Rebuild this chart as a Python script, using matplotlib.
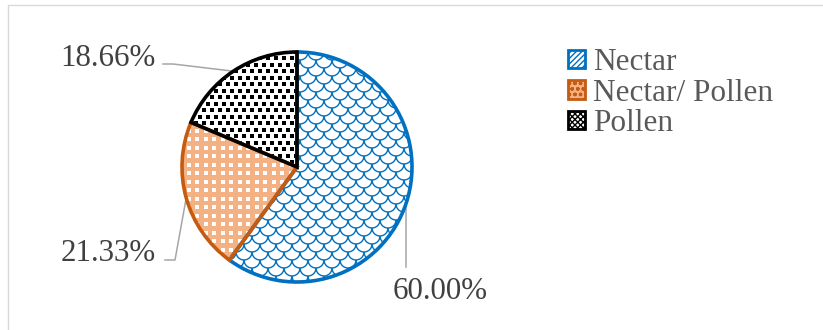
import numpy as np
import matplotlib.pyplot as plt
from matplotlib.patches import Wedge, Patch, Rectangle
from matplotlib.collections import LineCollection

# share of visits by food source
sources = ["Nectar", "Nectar/ Pollen", "Pollen"]
shares = [60.00, 21.33, 18.66]

edge_colors = ["#0070C0", "#C55A11", "#000000"]
face_colors = ["#FFFFFF", "#F4B183", "#FFFFFF"]

plt.rcParams["font.family"] = ["Liberation Serif", "DejaVu Serif"]

W, H = 823, 330
fig = plt.figure(figsize=(W / 100, H / 100), dpi=100)
ax = fig.add_axes([0, 0, 1, 1])

cx, cy, R = 297, 163, 115
wedges, _ = ax.pie(shares, colors=face_colors, startangle=90, counterclock=False,
                   center=(cx, cy), radius=R, frame=True,
                   wedgeprops=dict(linewidth=0))
ax.set_xlim(0, W)
ax.set_ylim(0, H)
ax.set_aspect("equal")
ax.axis("off")


def scales(clip, color, step=16):
    r = step / 2
    t = np.linspace(np.pi, 2 * np.pi, 15)
    segs = []
    for j, y in enumerate(np.arange(cy - R - 10, cy + R + 10, r)):
        off = (j % 2) * r
        for x in np.arange(cx - R - 10 + off, cx + R + 10, step):
            segs.append(np.column_stack([x + r * np.cos(t), y + r * np.sin(t)]))
    lc = LineCollection(segs, colors=color, linewidths=1.0, zorder=2)
    ax.add_collection(lc)
    lc.set_clip_path(clip)


def squares(clip, color, size, dx, dy, stagger=True):
    xs, ys = [], []
    for j, y in enumerate(np.arange(cy - R - 10, cy + R + 10, dy)):
        off = (j % 2) * dx / 2 if stagger else 0
        for x in np.arange(cx - R - 10 + off, cx + R + 10, dx):
            xs.append(x)
            ys.append(y)
    sc = ax.scatter(xs, ys, s=(size * 0.72) ** 2, marker="s", c=color,
                    linewidths=0, zorder=2)
    sc.set_clip_path(clip)


scales(wedges[0], edge_colors[0])
squares(wedges[1], "white", 3.8, 8.5, 8.5, stagger=False)
squares(wedges[2], "black", 3.8, 8, 6.5)

for w, ec in zip(wedges, edge_colors):
    ax.add_patch(Wedge(w.center, w.r, w.theta1, w.theta2, fill=False,
                       edgecolor=ec, linewidth=2.6, zorder=5))

# percentage labels with leader lines from the middle of each slice
label_color = "#404040"
lead_color = "#A6A6A6"
mids = [np.deg2rad((w.theta1 + w.theta2) / 2) for w in wedges]
anchors = [(cx + R * np.cos(m), cy + R * np.sin(m)) for m in mids]

# Nectar: straight down to the label
ax.plot([anchors[0][0], anchors[0][0]], [anchors[0][1], 63], color=lead_color, lw=1.1, zorder=1)
ax.text(393, 31, f"{shares[0]:.2f}%", ha="left", va="baseline", fontsize=22.3, color=label_color)

# Nectar/ Pollen
ax.plot([165, 175, anchors[1][0]], [70, 70, anchors[1][1]], color=lead_color, lw=1.1, zorder=1)
ax.text(156, 69, f"{shares[1]:.2f}%", ha="right", va="baseline", fontsize=22.3, color=label_color)

# Pollen
ax.plot([163, 173, anchors[2][0]], [266, 266, anchors[2][1]], color=lead_color, lw=1.1, zorder=1)
ax.text(156, 264, f"{shares[2]:.2f}%", ha="right", va="baseline", fontsize=22.3, color=label_color)

handles = [Patch(facecolor="white", edgecolor=edge_colors[0], hatch="//////", linewidth=2),
           Patch(facecolor=face_colors[1], edgecolor=edge_colors[1], hatch="ooo", linewidth=2),
           Patch(facecolor="white", edgecolor=edge_colors[2], hatch="xxxxxx", linewidth=2)]
ax.legend(handles, sources, loc="upper left", bbox_to_anchor=(568 / W, 1 - 48 / H),
          frameon=False, fontsize=22.5, labelcolor="#595959", borderpad=0,
          borderaxespad=0, handlelength=0.55, handleheight=0.55,
          handletextpad=0.25, labelspacing=0.05)

# chart area border
fig.add_artist(Rectangle((8 / W, -0.1), 1.2, 1.1 - 5 / H, transform=fig.transFigure,
                         fill=False, edgecolor="#D9D9D9", linewidth=1.0))

fig.savefig("out.png", dpi=100)
